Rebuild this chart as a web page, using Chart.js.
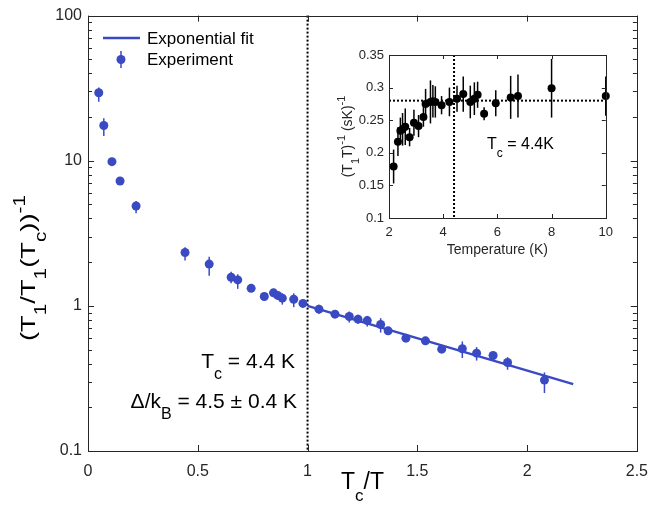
<!DOCTYPE html>
<html>
<head>
<meta charset="utf-8">
<script src="https://cdn.jsdelivr.net/npm/chart.js@4.4.0/dist/chart.umd.min.js"></script>
<style>
  body { margin: 0; background: #fff; }
  #wrap { position: relative; width: 659px; height: 510px; }
  #main { position: absolute; left: 0; top: 0; }
  #inset { position: absolute; left: 320px; top: 40px; }
</style>
</head>
<body>
<div id="wrap">
  <canvas id="main" width="659" height="510"></canvas>
  <canvas id="inset" width="300" height="222"></canvas>
</div>
<script>
// main panel: (T1/T1(Tc))^-1 against Tc/T
const tcOverT = [0.049, 0.072, 0.109, 0.146, 0.219, 0.442, 0.552, 0.652, 0.682, 0.743,
  0.803, 0.845, 0.864, 0.885, 0.937, 0.979, 1.052, 1.125, 1.19, 1.23,
  1.272, 1.333, 1.367, 1.448, 1.537, 1.611, 1.705, 1.77, 1.845, 1.911, 2.079];
const rateNorm = [29.4, 17.5, 9.85, 7.25, 4.88, 2.33, 1.94, 1.576, 1.51, 1.32,
  1.16, 1.23, 1.18, 1.13, 1.11, 1.04, 0.949, 0.877, 0.844, 0.81,
  0.792, 0.744, 0.673, 0.599, 0.574, 0.503, 0.506, 0.472, 0.455, 0.407, 0.308];
const rateLo = [25.5, 14.8, 9.4, 6.9, 4.35, 2.05, 1.61, 1.43, 1.31, 1.25,
  1.11, 1.16, 1.10, 1.02, 0.98, 0.98, 0.881, 0.84, 0.768, 0.752,
  0.72, 0.655, 0.64, 0.57, 0.55, 0.48, 0.437, 0.42, 0.43, 0.363, 0.251];
const rateHi = [32.0, 19.6, 10.3, 7.6, 5.28, 2.53, 2.18, 1.72, 1.65, 1.38,
  1.21, 1.30, 1.26, 1.22, 1.22, 1.10, 1.016, 0.91, 0.914, 0.867,
  0.853, 0.823, 0.70, 0.63, 0.60, 0.53, 0.568, 0.52, 0.48, 0.443, 0.348];
const fitX = [1, 2.21];
const fitY = [1, 0.289];
const mainXTicks = [0, 0.5, 1, 1.5, 2, 2.5];
const mainYTicks = [0.1, 1, 10, 100];

// inset: (T1 T)^-1 against temperature
const tempK = [2.17, 2.33, 2.42, 2.50, 2.60, 2.76, 2.92, 3.09, 3.27, 3.35,
  3.53, 3.62, 3.71, 3.94, 4.23, 4.51, 4.74, 5.00, 5.15, 5.27,
  5.51, 5.94, 6.49, 6.76, 8.00, 10.0];
const invT1T = [0.179, 0.217, 0.234, 0.236, 0.240, 0.224, 0.246, 0.241, 0.255, 0.275,
  0.278, 0.279, 0.278, 0.273, 0.278, 0.283, 0.290, 0.278, 0.283, 0.289,
  0.260, 0.276, 0.285, 0.287, 0.299, 0.287];
const invT1TErr = [0.026, 0.022, 0.02, 0.025, 0.028, 0.014, 0.02, 0.017, 0.015, 0.023,
  0.033, 0.025, 0.024, 0.014, 0.022, 0.02, 0.027, 0.025, 0.025, 0.02,
  0.01, 0.02, 0.033, 0.033, 0.045, 0.03];
const insetXTicks = [2, 4, 6, 8, 10];
const insetYTicks = [0.1, 0.15, 0.2, 0.25, 0.3, 0.35];
const tcK = 4.4;
const plateau = 0.28;

const BLUE = '#3a4ac3';
const AXIS = '#262626';
const FONT = '"Liberation Sans", Arial, sans-serif';

Chart.defaults.font.family = FONT;
Chart.defaults.color = AXIS;

function seg(ctx, x1, y1, x2, y2) {
  ctx.beginPath(); ctx.moveTo(x1, y1); ctx.lineTo(x2, y2); ctx.stroke();
}

// parts: [text, mode]  mode 0 normal, 1 subscript, 2 superscript
function richText(ctx, parts, x, y, size, align, stretch) {
  const small = Math.round(size * 0.75);
  const sx = stretch || 1;
  let w = 0;
  parts.forEach(p => {
    ctx.font = (p[1] ? small : size) + 'px ' + FONT;
    w += ctx.measureText(p[0]).width * sx;
  });
  let cx = align === 'right' ? x - w : align === 'center' ? x - w / 2 : x;
  ctx.textAlign = 'left';
  ctx.textBaseline = 'alphabetic';
  parts.forEach(p => {
    ctx.font = (p[1] ? small : size) + 'px ' + FONT;
    const dy = p[1] === 1 ? size * 0.5 : p[1] === 2 ? -size * 0.5 : 0;
    ctx.save();
    ctx.translate(cx, y + dy);
    ctx.scale(sx, 1);
    ctx.fillText(p[0], 0, 0);
    ctx.restore();
    cx += ctx.measureText(p[0]).width * sx;
  });
}

function fixedTicks(list) {
  return s => { s.ticks = list.map(v => ({ value: v })); };
}
const fmt = v => String(parseFloat(v.toFixed(2)));

const mainDecor = {
  id: 'mainDecor',
  beforeDatasetsDraw(chart) {
    const { ctx, chartArea: a, scales: { x, y } } = chart;
    ctx.save();
    ctx.strokeStyle = '#000';
    ctx.lineWidth = 2;
    ctx.setLineDash([2, 2]);
    const px = x.getPixelForValue(1);
    seg(ctx, px, a.top, px, a.bottom);
    ctx.setLineDash([]);
    ctx.strokeStyle = BLUE;
    ctx.lineWidth = 1.5;
    tcOverT.forEach((v, i) => {
      const p = x.getPixelForValue(v);
      seg(ctx, p, y.getPixelForValue(rateLo[i]), p, y.getPixelForValue(rateHi[i]));
    });
    ctx.restore();
  },
  afterDraw(chart) {
    const { ctx, chartArea: a, scales: { x, y } } = chart;
    ctx.save();
    ctx.strokeStyle = AXIS;
    ctx.lineWidth = 1;
    ctx.strokeRect(Math.round(a.left) + 0.5, Math.round(a.top) + 0.5,
      Math.round(a.right - a.left), Math.round(a.bottom - a.top));
    mainXTicks.forEach(v => {
      const p = Math.round(x.getPixelForValue(v)) + 0.5;
      seg(ctx, p, a.bottom, p, a.bottom - 6);
      seg(ctx, p, a.top, p, a.top + 6);
    });
    for (let d = 0.1; d < 100; d *= 10) {
      for (let k = 1; k <= 10; k++) {
        const v = d * k;
        const p = Math.round(y.getPixelForValue(v)) + 0.5;
        const len = (k === 1 || k === 10) ? 6 : 4;
        seg(ctx, a.left, p, a.left + len, p);
        seg(ctx, a.right, p, a.right - len, p);
      }
    }

    // legend
    ctx.strokeStyle = BLUE;
    ctx.lineWidth = 2.5;
    seg(ctx, a.left + 15, 38, a.left + 52, 38);
    ctx.lineWidth = 1.5;
    seg(ctx, a.left + 33, 51, a.left + 33, 68);
    ctx.fillStyle = BLUE;
    ctx.beginPath(); ctx.arc(a.left + 33, 59.5, 4.5, 0, Math.PI * 2); ctx.fill();
    ctx.fillStyle = '#000';
    ctx.font = '17px ' + FONT;
    ctx.textAlign = 'left';
    ctx.textBaseline = 'alphabetic';
    ctx.fillText('Exponential fit', a.left + 59, 44);
    ctx.fillText('Experiment', a.left + 59, 65);

    // annotations
    richText(ctx, [['T', 0], ['c', 1], [' = 4.4 K', 0]], 295, 368, 21, 'right');
    richText(ctx, [['\u0394/k', 0], ['B', 1], [' = 4.5 \u00b1 0.4 K', 0]], 297, 408, 21, 'right');

    // axis titles
    richText(ctx, [['T', 0], ['c', 1], ['/T', 0]], (a.left + a.right) / 2, 489, 23, 'center');
    ctx.save();
    ctx.translate(35, 268);
    ctx.rotate(-Math.PI / 2);
    richText(ctx, [['(T', 0], ['1', 1], ['/T', 0], ['1', 1], ['(T', 0], ['c', 1], ['))', 0], ['-1', 2]],
      0, 0, 21, 'center', 1.3);
    ctx.restore();
    ctx.restore();
  }
};

new Chart(document.getElementById('main'), {
  type: 'scatter',
  data: {
    datasets: [{
      label: 'Experiment',
      data: tcOverT.map((v, i) => ({ x: v, y: rateNorm[i] })),
      backgroundColor: BLUE,
      borderColor: BLUE,
      pointRadius: 4.5,
      pointHoverRadius: 4.5,
      borderWidth: 0
    }, {
      label: 'Exponential fit',
      type: 'line',
      data: fitX.map((v, i) => ({ x: v, y: fitY[i] })),
      borderColor: BLUE,
      borderWidth: 2.5,
      pointRadius: 0,
      fill: false
    }]
  },
  options: {
    responsive: false,
    animation: false,
    events: [],
    layout: { padding: { top: 15, right: 13, left: 0, bottom: 0 } },
    plugins: { legend: { display: false }, tooltip: { enabled: false } },
    scales: {
      x: {
        type: 'linear', min: 0, max: 2.5,
        afterBuildTicks: fixedTicks(mainXTicks),
        afterFit: s => { s.height = 59; },
        grid: { display: false, drawTicks: false },
        border: { display: false },
        ticks: { callback: fmt, padding: 11, maxRotation: 0, autoSkip: false, font: { size: 16 } }
      },
      y: {
        type: 'logarithmic', min: 0.1, max: 100,
        afterBuildTicks: fixedTicks(mainYTicks),
        afterFit: s => { s.width = 88; },
        grid: { display: false, drawTicks: false },
        border: { display: false },
        ticks: { callback: fmt, padding: 6, autoSkip: false, font: { size: 16 } }
      }
    }
  },
  plugins: [mainDecor]
});

const insetDecor = {
  id: 'insetDecor',
  beforeDatasetsDraw(chart) {
    const { ctx, chartArea: a, scales: { x, y } } = chart;
    ctx.save();
    ctx.strokeStyle = '#000';
    ctx.lineWidth = 2;
    ctx.setLineDash([2, 2]);
    const px = x.getPixelForValue(tcK);
    seg(ctx, px, a.top, px, a.bottom);
    const py = y.getPixelForValue(plateau);
    seg(ctx, a.left, py, a.right, py);
    ctx.setLineDash([]);
    ctx.lineWidth = 1.5;
    tempK.forEach((v, i) => {
      const p = x.getPixelForValue(v);
      seg(ctx, p, y.getPixelForValue(invT1T[i] - invT1TErr[i]), p, y.getPixelForValue(invT1T[i] + invT1TErr[i]));
    });
    ctx.restore();
  },
  afterDraw(chart) {
    const { ctx, chartArea: a, scales: { x, y } } = chart;
    ctx.save();
    ctx.strokeStyle = AXIS;
    ctx.lineWidth = 1;
    ctx.strokeRect(Math.round(a.left) + 0.5, Math.round(a.top) + 0.5,
      Math.round(a.right - a.left), Math.round(a.bottom - a.top));
    insetXTicks.forEach(v => {
      const p = Math.round(x.getPixelForValue(v)) + 0.5;
      seg(ctx, p, a.bottom, p, a.bottom - 4);
      seg(ctx, p, a.top, p, a.top + 4);
    });
    insetYTicks.forEach(v => {
      const p = Math.round(y.getPixelForValue(v)) + 0.5;
      seg(ctx, a.left, p, a.left + 4, p);
      seg(ctx, a.right, p, a.right - 4, p);
    });
    ctx.fillStyle = '#000';
    richText(ctx, [['T', 0], ['c', 1], [' = 4.4K', 0]], 167, 109, 16, 'left');
    ctx.fillStyle = AXIS;
    ctx.font = '14px ' + FONT;
    ctx.textAlign = 'center';
    ctx.textBaseline = 'alphabetic';
    ctx.fillText('Temperature (K)', (a.left + a.right) / 2, 214);
    ctx.save();
    ctx.translate(32, (a.top + a.bottom) / 2);
    ctx.rotate(-Math.PI / 2);
    richText(ctx, [['(T', 0], ['1', 1], ['T)', 0], ['-1', 2], [' (sK)', 0], ['-1', 2]], 0, 0, 14, 'center');
    ctx.restore();
    ctx.restore();
  }
};

new Chart(document.getElementById('inset'), {
  type: 'scatter',
  data: {
    datasets: [{
      label: 'inset',
      data: tempK.map((v, i) => ({ x: v, y: invT1T[i] })),
      backgroundColor: '#000',
      borderColor: '#000',
      pointRadius: 4,
      pointHoverRadius: 4,
      borderWidth: 0,
      clip: false
    }]
  },
  options: {
    responsive: false,
    animation: false,
    events: [],
    layout: { padding: { top: 15, right: 13, left: 0, bottom: 0 } },
    plugins: { legend: { display: false }, tooltip: { enabled: false } },
    scales: {
      x: {
        type: 'linear', min: 2, max: 10,
        afterBuildTicks: fixedTicks(insetXTicks),
        afterFit: s => { s.height = 44; },
        grid: { display: false, drawTicks: false },
        border: { display: false },
        ticks: { callback: fmt, padding: 7, maxRotation: 0, autoSkip: false, font: { size: 13 } }
      },
      y: {
        type: 'linear', min: 0.1, max: 0.35,
        afterBuildTicks: fixedTicks(insetYTicks),
        afterFit: s => { s.width = 69; },
        grid: { display: false, drawTicks: false },
        border: { display: false },
        ticks: { callback: fmt, padding: 5, autoSkip: false, font: { size: 13 } }
      }
    }
  },
  plugins: [insetDecor]
});
</script>
</body>
</html>
